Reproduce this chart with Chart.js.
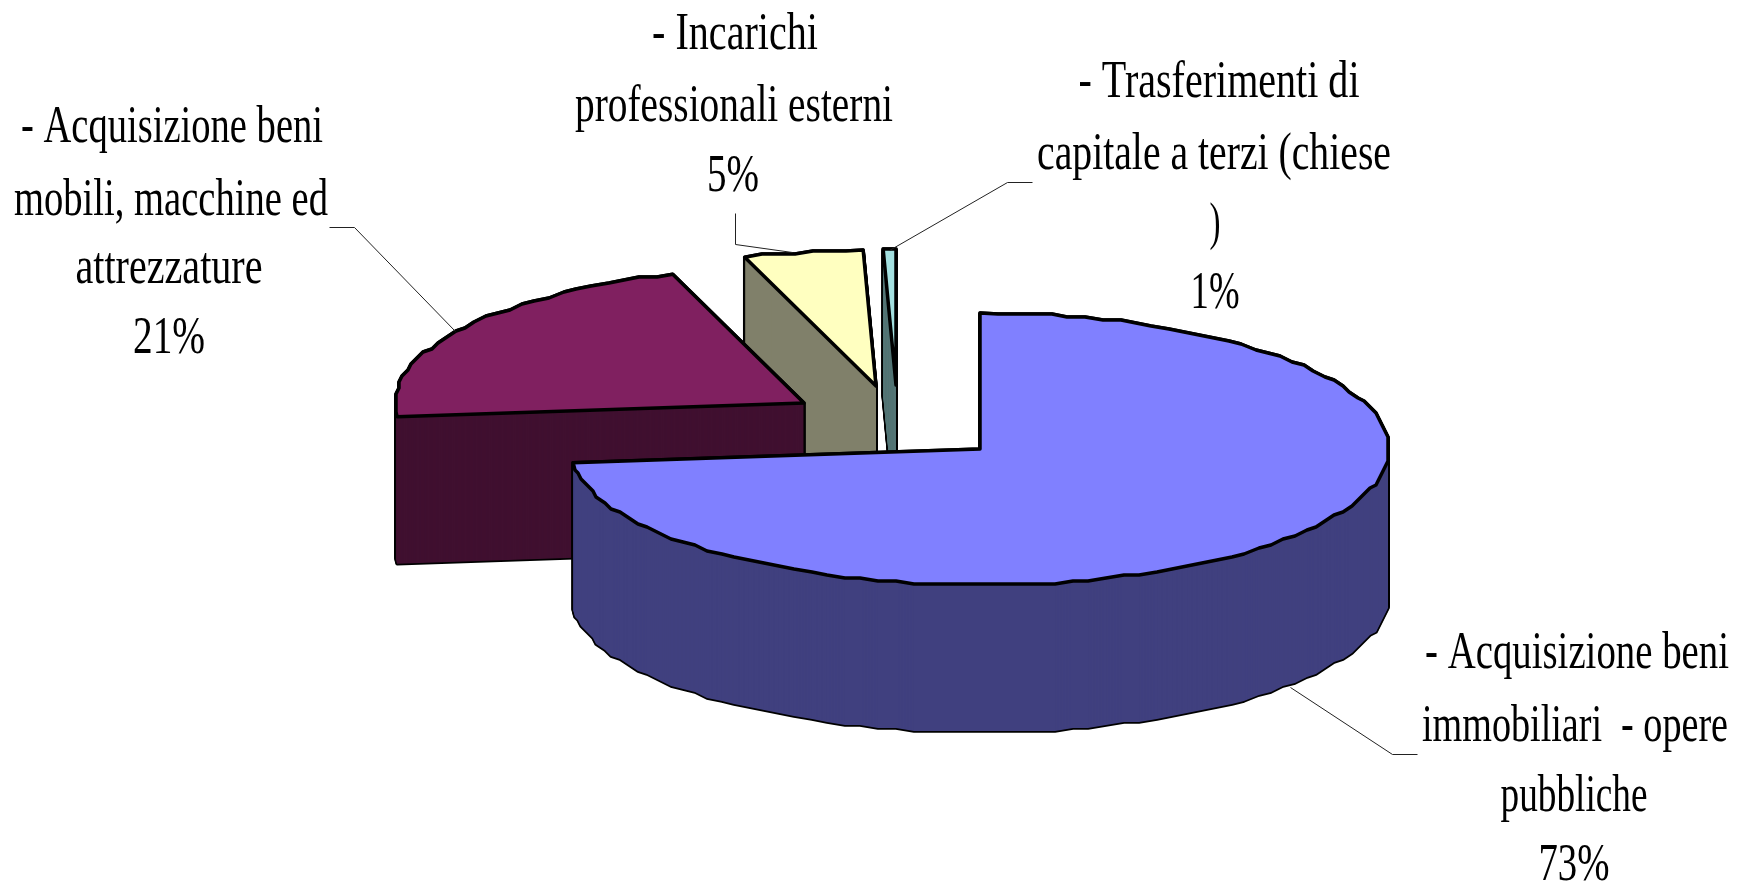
<!DOCTYPE html>
<html>
<head>
<meta charset="utf-8">
<style>html,body{margin:0;padding:0;background:#fff}canvas{display:block}</style>
<script src="https://cdn.jsdelivr.net/npm/chart.js@4/dist/chart.umd.min.js"></script>
</head>
<body>
<canvas id="c" width="1739" height="883"></canvas>
<script>
const categories = [
  ["- Acquisizione beni", "immobiliari  - opere", "pubbliche"],
  ["- Acquisizione beni", "mobili, macchine ed", "attrezzature"],
  ["- Incarichi", "professionali esterni"],
  ["- Trasferimenti di", "capitale a terzi (chiese", ")"]
];
const values = [73.4, 21.4, 4.7, 0.5];
const topColors = ["#8080FF", "#802060", "#FFFFC0", "#A3E0E0"];
const wallColors = ["#40407F", "#401030", "#80806A", "#557575"];

// layout only
const RADIUS = 409, SQUASH = 136 / 409, DEPTH = 147, GRID = 3, STEP = 2.5 * Math.PI / 180;
const explode = [[0, 0], [-176, -46], [-104, -63], [-84, -64]];
const labelLayout = [
  { x: [1577, 1575, 1574, 1574], base: [668, 741, 811, 880], w: [304, 306, 147, 71] },
  { x: [172, 171, 169, 169], base: [142, 215, 283, 353], w: [302, 314, 187, 72] },
  { x: [735, 734, 733], base: [49, 121, 191], w: [166, 318, 52] },
  { x: [1219, 1214, 1215, 1215], base: [97, 169, 239, 308], w: [281, 354, 11, 49] }
];
const leaders = [
  [[1417, 754], [1392, 754], [1290, 687]],
  [[329, 227], [354, 227], [455, 331]],
  [[735, 213], [735, 244], [792, 252]],
  [[1032, 182], [1007, 182], [889, 250]]
];

const pie3d = {
  id: 'pie3d',
  beforeDatasetsDraw(chart) {
    const ctx = chart.ctx;
    const arcs = chart.getDatasetMeta(0).data;
    // outline of a sector, coarsened the way the low-resolution original is
    const rimOf = el => {
      const p = el.getProps(['startAngle', 'endAngle', 'outerRadius'], true);
      const rx = p.outerRadius, ry = rx * SQUASH, pts = [];
      const n = Math.max(1, Math.round((p.endAngle - p.startAngle) / STEP));
      for (let k = 0; k <= n; k++) {
        const a = p.startAngle + (p.endAngle - p.startAngle) * k / n;
        let qx = rx * Math.cos(a), qy = ry * Math.sin(a);
        if (k > 0 && k < n) { qx = Math.round(qx / GRID) * GRID; qy = Math.round(qy / GRID) * GRID; }
        pts.push([qx, qy]);
      }
      return pts;
    };
    const sectorPath = (el, i, rim, d) => {
      const cx = el.x + explode[i][0], cy = el.y + explode[i][1] + d;
      ctx.beginPath();
      ctx.moveTo(cx, cy);
      rim.forEach(q => ctx.lineTo(cx + q[0], cy + q[1]));
      ctx.closePath();
    };
    ctx.save();
    ctx.lineJoin = 'round';
    ctx.strokeStyle = '#000';
    for (let i = arcs.length - 1; i >= 0; i--) {
      const el = arcs[i], rim = rimOf(el);
      ctx.lineWidth = 3.5;
      for (let d = DEPTH; d >= 0; d--) { sectorPath(el, i, rim, d); ctx.stroke(); }
      ctx.fillStyle = wallColors[i];
      for (let d = DEPTH; d >= 0; d--) { sectorPath(el, i, rim, d); ctx.fill(); }
      // top face, drawn by the library's own arc element inside the coarse outline
      ctx.save();
      sectorPath(el, i, rim, 0);
      ctx.clip();
      ctx.translate(el.x + explode[i][0], el.y + explode[i][1]);
      ctx.scale(1.03, 1.03 * SQUASH);
      ctx.translate(-el.x, -el.y);
      el.draw(ctx);
      ctx.restore();
      sectorPath(el, i, rim, 0);
      ctx.stroke();
    }
    // leader lines
    ctx.lineWidth = 1;
    ctx.strokeStyle = '#222';
    ctx.lineJoin = 'miter';
    leaders.forEach(pts => {
      ctx.beginPath();
      pts.forEach((q, k) => k ? ctx.lineTo(q[0] + .5, q[1] + .5) : ctx.moveTo(q[0] + .5, q[1] + .5));
      ctx.stroke();
    });
    // data labels
    ctx.fillStyle = '#000';
    ctx.font = '52px "Liberation Serif"';
    ctx.textAlign = 'left';
    ctx.textBaseline = 'alphabetic';
    categories.forEach((lines, i) => {
      const all = lines.concat([Math.round(values[i]) + '%']);
      const L = labelLayout[i];
      all.forEach((t, k) => {
        const m = ctx.measureText(t).width;
        ctx.save();
        ctx.translate(L.x[k] - L.w[k] / 2, L.base[k]);
        ctx.scale(L.w[k] / m, 1);
        ctx.fillText(t, 0, 0);
        ctx.restore();
      });
    });
    ctx.restore();
    return false;
  }
};

new Chart(document.getElementById('c'), {
  type: 'pie',
  data: {
    labels: categories.map(l => l.join(' ')),
    datasets: [{ data: values, backgroundColor: topColors, borderWidth: 0, radius: RADIUS }]
  },
  options: {
    responsive: false,
    animation: false,
    rotation: 0,
    events: [],
    layout: { padding: { left: 221, top: 15 } },
    plugins: { legend: { display: false }, tooltip: { enabled: false }, title: { display: false } }
  },
  plugins: [pie3d]
});
</script>
</body>
</html>
